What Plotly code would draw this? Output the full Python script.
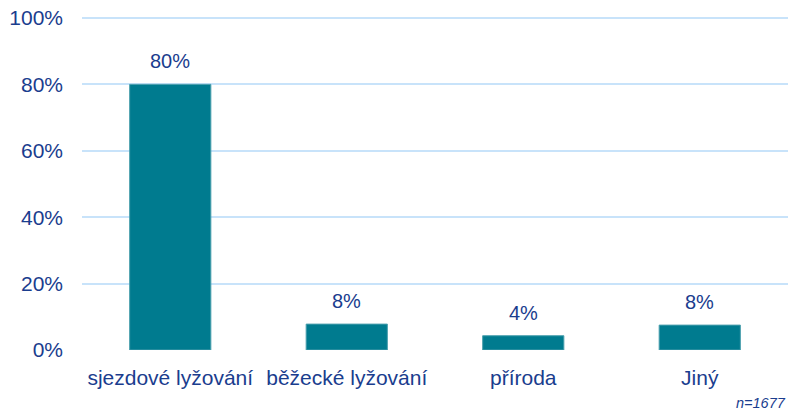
import plotly.graph_objects as go

categories = ["sjezdové lyžování", "běžecké lyžování", "příroda", "Jiný"]
values = [80, 7.8, 4.3, 7.5]
labels = ["80%", "8%", "4%", "8%"]
tick_vals = [0, 20, 40, 60, 80, 100]
tick_text = ["0%", "20%", "40%", "60%", "80%", "100%"]
note = "n=1677"

text_color = "#1A3D8E"
font_family = "Liberation Sans, Arial, sans-serif"

fig = go.Figure()
fig.add_trace(go.Bar(x=categories, y=values, marker_color="#007B8F",
                     marker_line=dict(color="#4A9FAD", width=1), hoverinfo="skip"))

for c, v, t in zip(categories, values, labels):
    fig.add_annotation(x=c, y=v, text=t, showarrow=False, yanchor="bottom",
                       yshift=10, font=dict(size=20, color=text_color, family=font_family))

fig.add_annotation(xref="paper", yref="paper", x=1.0, y=-0.16, xanchor="right",
                   yanchor="middle", text="<i>" + note + "</i>", showarrow=False,
                   font=dict(size=14.5, color=text_color, family=font_family))

fig.update_layout(
    width=790, height=410,
    margin=dict(l=82, r=2, t=16, b=60, autoexpand=False),
    paper_bgcolor="white", plot_bgcolor="white",
    bargap=0.54,
    showlegend=False,
    font=dict(family=font_family, color=text_color, size=21),
)
fig.update_yaxes(range=[0, 100.6], tickvals=tick_vals, ticktext=tick_text,
                 showgrid=True, gridcolor="#C8E3FA", gridwidth=2, zeroline=False,
                 showline=False, ticklabelstandoff=18, automargin=False,
                 tickfont=dict(size=21, color=text_color))
fig.update_xaxes(showgrid=False, showline=False, zeroline=False, automargin=False,
                 ticklabelstandoff=13, tickfont=dict(size=21, color=text_color))

fig.write_html("out.html", config={"displayModeBar": False},
               post_script="document.body.style.margin='0';")
